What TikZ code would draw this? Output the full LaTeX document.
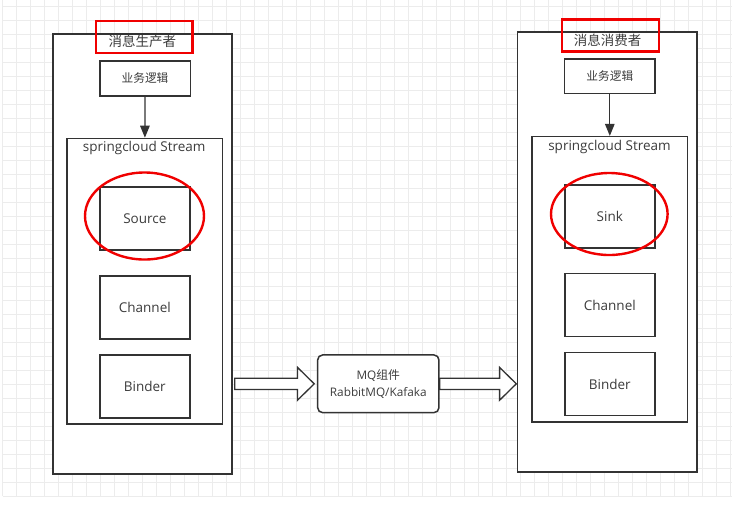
\documentclass[tikz,border=0pt]{standalone}
\usepackage{fontspec}
\setmainfont{Open Sans}
\newfontfamily\cjk{Noto Sans CJK SC}
\usetikzlibrary{arrows.meta,calc}
\definecolor{linegray}{HTML}{333333}
\definecolor{textgray}{HTML}{3C3C3C}
\definecolor{markred}{HTML}{F00000}
\definecolor{gridgray}{HTML}{ECECEC}
% block arrow: start, tip
\newcommand{\blockarrow}[2]{%
  \draw[hollow] let \p1=(#1), \p2=(#2) in
    (\x1,\y1+5.6pt) -- (\x2-16.7pt,\y1+5.6pt) -- (\x2-16.7pt,\y1+16.4pt) -- (\x2,\y1)
    -- (\x2-16.7pt,\y1-16.4pt) -- (\x2-16.7pt,\y1-5.6pt) -- (\x1,\y1-5.6pt) -- cycle;}
\begin{document}
\begin{tikzpicture}[x=1pt, y=-1pt, text=textgray, font=\fontsize{13.5}{16}\selectfont,
    gridline/.style={gridgray, line width=0.8pt},
    outer/.style={draw=linegray, fill=white, line width=1.5pt, minimum width=179.3pt, minimum height=439.7pt, inner sep=0pt},
    stream/.style={draw=linegray, line width=1.5pt, minimum width=155.5pt, minimum height=285.5pt, inner sep=0pt},
    box/.style={draw=linegray, line width=1.5pt, minimum width=90pt, minimum height=63pt, inner sep=0pt},
    logic/.style={draw=linegray, line width=1.5pt, minimum width=90.5pt, minimum height=34.8pt, inner sep=0pt, font=\cjk\fontsize{11.7}{14}\selectfont},
    tag/.style={draw=markred, line width=2.6pt, minimum width=96.8pt, minimum height=32.2pt, inner sep=0pt},
    title/.style={inner sep=0pt, font=\cjk\fontsize{13.5}{16}\selectfont},
    ring/.style={draw=markred, line width=2.4pt},
    flow/.style={draw=linegray, line width=1.3pt, -{Triangle[length=12pt,width=9.5pt]}},
    hollow/.style={draw=linegray, fill=white, line width=1.3pt},
    mqbox/.style={draw=linegray, fill=white, line width=1.5pt, rounded corners=5pt, minimum width=121.3pt, minimum height=57.7pt, align=center, font=\fontsize{11.8}{16.7}\selectfont}]
    \useasboundingbox (0,0) rectangle (743,507);
    % 网格
    \foreach \gx in {0,...,52} \draw[gridline] ({2.7+14*\gx},0) -- ({2.7+14*\gx},496);
    \foreach \gy in {0,...,35} \draw[gridline] (2.7,{6+14*\gy}) -- (731.7,{6+14*\gy});
    % 生产者
    \node[outer] (prod) at (142.4,253.9) {};
    \node[tag] (prodtag) at (144.2,36.9) {};
    \node[title] (prodname) at (142.4,41.5) {消息生产者};
    \node[logic] (prodlogic) at (145,78.4) {业务逻辑};
    \node[stream] (prodstream) at (144.7,281.2) {};
    \node[inner sep=0pt, anchor=base] (prodsc) at (144.2,151.5) {springcloud Stream};
    \node[box] (source) at (144.8,218.3) {Source};
    \node[box] (prodchannel) at (144.8,307.5) {Channel};
    \node[box] (prodbinder) at (144.8,386.3) {Binder};
    \draw[flow] (prodlogic) -- (prodstream);
    \draw[ring] (144.5,216) ellipse [x radius=59.5pt, y radius=43.5pt];
    % 消费者
    \node[outer] (cons) at (607.3,251.9) {};
    \node[tag] (constag) at (610.4,35.4) {};
    \node[title] (consname) at (607.5,40.5) {消息消费者};
    \node[logic] (conslogic) at (609.8,76.2) {业务逻辑};
    \node[stream] (consstream) at (609.8,279.4) {};
    \node[inner sep=0pt, anchor=base] (conssc) at (609.5,150) {springcloud Stream};
    \node[box] (sink) at (609.8,216.3) {Sink};
    \node[box] (conschannel) at (609.8,305.2) {Channel};
    \node[box] (consbinder) at (609.8,384.2) {Binder};
    \draw[flow] (conslogic) -- (consstream);
    \draw[ring] (609.3,214) ellipse [x radius=58.3pt, y radius=41pt];
    % MQ
    \node[mqbox] (mq) at (378.3,383.8) {MQ{\cjk 组件}\\RabbitMQ/Kafaka};
    \blockarrow{$(prod.east |- mq.west)+(2,0)$}{$(mq.west)+(-2.7,0)$}
    \blockarrow{mq.east}{$(cons.west)+(-0.6,0)$}
\end{tikzpicture}
\end{document}
